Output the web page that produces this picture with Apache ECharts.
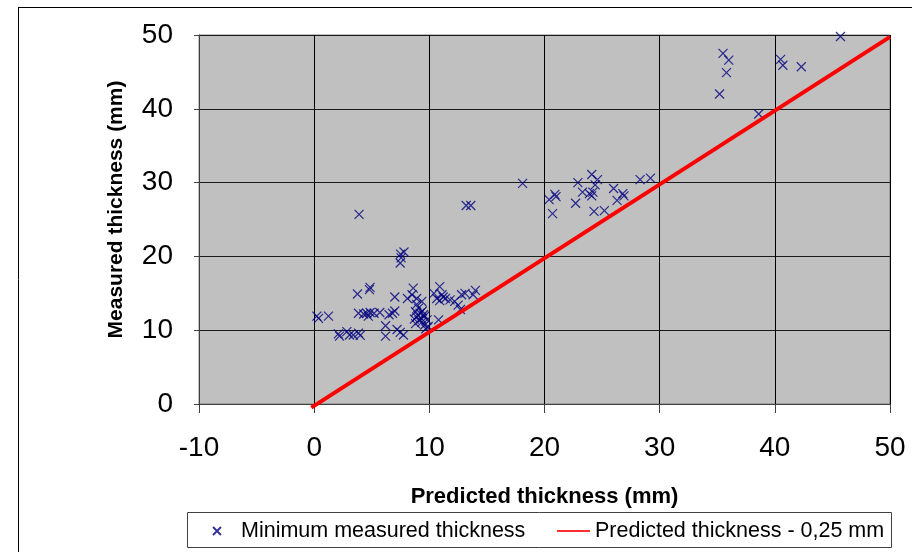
<!DOCTYPE html>
<html>
<head>
<meta charset="utf-8">
<script src="https://cdn.jsdelivr.net/npm/echarts@6/dist/echarts.min.js"></script>
<style>
  html, body { margin: 0; padding: 0; background: #fff; }
  #chart { width: 912px; height: 552px; }
</style>
</head>
<body>
<div id="chart"></div>
<script>
var FONT = '"Liberation Sans", Arial, sans-serif';

// predicted thickness (x) and minimum measured thickness (y), mm
var predicted = [
  45.7, 35.5, 36.0, 35.8, 35.2, 38.6, 40.5, 40.7, 42.3,
  18.1, 20.4, 20.9, 21.0, 20.7, 22.9, 22.7, 23.3, 24.1, 24.6, 24.4, 23.9, 24.2, 24.1,
  24.3, 25.2, 26.0, 26.3, 26.8, 26.9, 28.3, 29.2,
  3.9, 13.2, 13.6, 7.47, 7.55, 7.8, 7.5,
  3.76, 4.8, 4.85, 7.0, 0.23, 0.38, 1.24,
  3.85, 4.3, 4.57, 4.86, 4.7, 5.2, 5.7, 6.5, 6.8, 7.0,
  2.1, 2.2, 2.84, 3.07, 3.4, 3.85, 4.0,
  6.2, 6.2, 7.2, 7.47, 7.75,
  8.1, 8.6, 8.5, 8.9, 9.35, 9.06, 8.8, 9.2, 9.5, 8.9, 9.8, 9.35, 9.6, 9.9, 8.8,
  9.0, 9.3, 9.1, 8.7, 9.6, 9.4, 9.7, 8.9,
  10.9, 10.4, 11.1, 11.4, 10.65, 11.8, 12.2, 12.8, 13.1, 14.0, 13.8, 12.5, 12.7,
  10.8, 11.2, 10.9
];
var measured = [
  49.8, 47.5, 46.6, 44.9, 42.0, 39.3, 46.7, 45.9, 45.7,
  29.9, 27.7, 28.4, 28.1, 25.8, 30.0, 27.2, 28.7, 31.1, 30.4, 29.7, 28.5, 28.7, 28.2,
  26.1, 26.2, 29.2, 27.6, 28.5, 28.2, 30.4, 30.6,
  25.7, 26.9, 26.9, 19.1, 19.8, 20.6, 20.3,
  14.9, 15.5, 15.8, 14.5, 11.9, 11.6, 11.9,
  12.3, 12.2, 12.3, 12.4, 11.9, 12.3, 12.4, 12.1, 12.3, 12.6,
  9.5, 9.2, 9.8, 9.35, 9.35, 9.6, 9.3,
  10.6, 9.2, 10.1, 9.7, 9.35,
  14.3, 15.7, 14.8, 14.3, 13.9, 13.0, 12.5, 12.3, 12.1, 11.8, 11.4, 11.1, 10.7, 10.5, 10.9,
  12.0, 11.6, 11.3, 11.5, 11.9, 12.6, 10.2, 13.5,
  15.9, 15.0, 14.8, 14.3, 14.3, 14.1, 13.9, 14.8, 15.0, 15.4, 14.8, 13.4, 12.8,
  11.4, 14.5, 14.0
];

// reference line: predicted thickness - 0,25 mm
var lineX = [-0.25, 50];
var lineY = [-0.5, 49.75];

var xTicks = { min: -10, max: 50, step: 10 };
var yTicks = { min: 0, max: 50, step: 10 };

var scatterName = 'Minimum measured thickness';
var lineName = 'Predicted thickness - 0,25 mm';
var crossPath = 'path://M0,0L10,10M10,0L0,10';

var chart = echarts.init(document.getElementById('chart'), null, { renderer: 'canvas' });

var option = {
  animation: false,
  backgroundColor: '#fff',
  textStyle: { fontFamily: FONT },
  grid: {
    left: 199, top: 35, right: 22, bottom: 148,
    show: true,
    backgroundColor: '#C0C0C0',
    borderColor: '#808080',
    borderWidth: 1
  },
  xAxis: {
    type: 'value',
    min: xTicks.min, max: xTicks.max, interval: xTicks.step,
    name: 'Predicted thickness (mm)',
    nameLocation: 'middle',
    nameGap: 82,
    nameTextStyle: { fontSize: 22, fontWeight: 'bold', color: '#000', fontFamily: FONT },
    axisLine: { show: true, onZero: false, lineStyle: { color: '#404040', width: 1 } },
    axisTick: { show: true, length: 9, lineStyle: { color: '#404040' } },
    axisLabel: { fontSize: 28, color: '#000', margin: 30, fontFamily: FONT },
    splitLine: { show: true, lineStyle: { color: '#000', width: 1 } }
  },
  yAxis: {
    type: 'value',
    min: yTicks.min, max: yTicks.max, interval: yTicks.step,
    name: 'Measured thickness (mm)',
    nameLocation: 'middle',
    nameGap: 72,
    nameTextStyle: { fontSize: 21, fontWeight: 'bold', color: '#000', fontFamily: FONT, padding: [0, 0, 0, 20] },
    axisLine: { show: true, onZero: false, lineStyle: { color: '#404040', width: 1 } },
    axisTick: { show: true, length: 5, lineStyle: { color: '#404040' } },
    axisLabel: { fontSize: 28, color: '#000', margin: 26, fontFamily: FONT },
    splitLine: { show: true, lineStyle: { color: '#1a1a1a', width: 1 } }
  },
  legend: [
    {
      data: [{ name: scatterName, icon: crossPath }],
      left: 212, top: 519, padding: 0,
      itemWidth: 38, itemHeight: 8,
      z: 10,
      textStyle: { fontSize: 21.5, color: '#000', fontFamily: FONT, lineHeight: 24 }
    },
    {
      data: [{ name: lineName, icon: 'rect', itemStyle: { color: '#FF3030' } }],
      left: 557, top: 519, padding: 0,
      itemWidth: 33, itemHeight: 2,
      z: 10,
      textStyle: { fontSize: 21.5, color: '#000', fontFamily: FONT, lineHeight: 24 }
    }
  ],
  graphic: [
    { type: 'line', z: 1, shape: { x1: 18.5, y1: 7, x2: 18.5, y2: 552 }, style: { stroke: '#000', lineWidth: 1 } },
    { type: 'line', z: 1, shape: { x1: 18, y1: 7.5, x2: 912, y2: 7.5 }, style: { stroke: '#000', lineWidth: 1 } },
    { type: 'rect', z: 1, shape: { x: 187.5, y: 512.5, width: 704, height: 35 }, style: { fill: '#fff', stroke: '#404040', lineWidth: 1 } }
  ],
  series: [
    {
      name: scatterName,
      type: 'scatter',
      symbol: crossPath,
      symbolSize: 9,
      itemStyle: { color: '#000080', borderColor: '#000080', borderWidth: 1.2 },
      data: predicted.map(function (x, i) { return [x, measured[i]]; }),
      z: 3
    },
    {
      name: lineName,
      type: 'line',
      symbol: 'none',
      clip: false,
      lineStyle: { color: '#FF0000', width: 4 },
      itemStyle: { color: '#FF0000' },
      data: lineX.map(function (x, i) { return [x, lineY[i]]; }),
      z: 4
    }
  ]
};

chart.setOption(option);
</script>
</body>
</html>
